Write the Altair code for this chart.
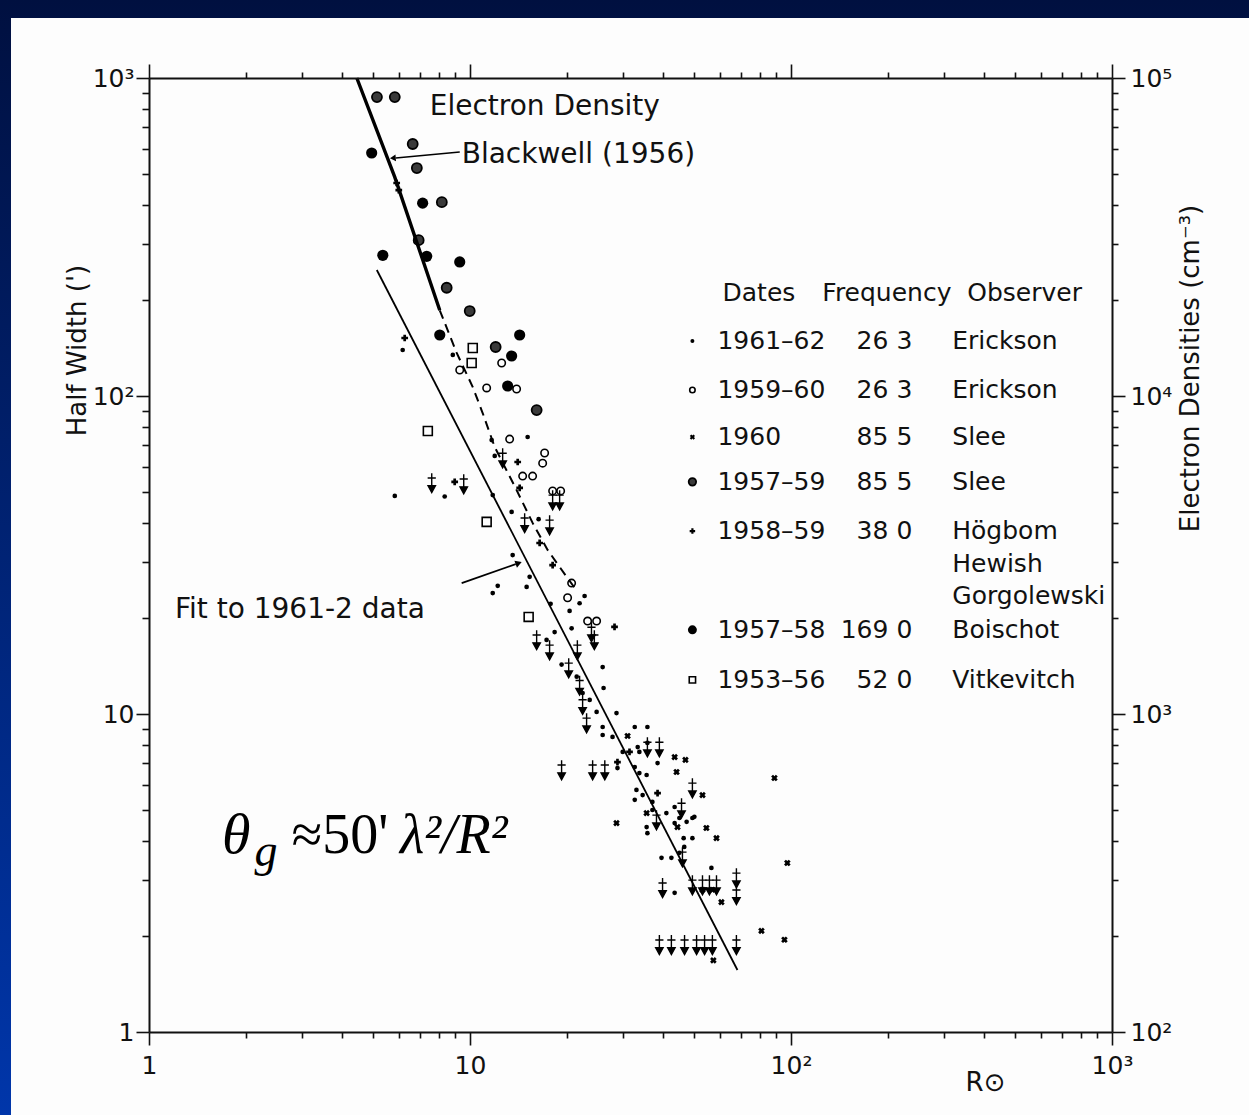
import altair as alt
import pandas as pd

# ---------------- data (Ro in solar radii, half width in arc-min) ----------------
# 1961-62 Erickson 26.3 MHz (small dots)
E61_X = [6.17, 8.84, 5.83, 8.34, 11.68, 15.12, 11.94, 11.77, 13.48, 16.36, 13.58, 15.34, 12.2, 11.77, 15.01,
         22.75, 21.95, 20.43, 17.83, 20.73, 18.35, 17.32, 19.29, 25.9, 26.07, 22.43, 28.6, 25.9, 25.9, 27.8,
         32.6, 35.7, 33.3, 29.9, 38.4, 32.6, 33.7, 33.0, 34.5, 37.0, 32.6, 37.0, 40.9, 44.9, 49.3,
         35.5, 47.3, 46.3, 49.3, 46.5, 39.5, 42.4, 44.9, 56.5, 43.4, 35.7, 33.7, 28.8, 35.5, 43.4,
         50.0, 43.4, 35.7, 23.6, 24.8, 21.5]
E61_Y = [139.5, 134.6, 48.5, 48.3, 72.7, 74.3, 64.8, 48.8, 43.2, 41.0, 31.6, 27.0, 25.3, 24.0, 25.1,
         23.5, 22.3, 21.1, 22.2, 18.6, 18.1, 17.1, 14.3, 14.05, 12.07, 11.64, 10.07, 9.1, 8.59, 8.47,
         9.1, 9.1, 7.87, 7.6, 7.01, 6.81, 6.52, 5.77, 5.56, 5.29, 5.37, 4.99, 4.88, 4.71, 4.71,
         4.41, 4.58, 4.07, 4.07, 3.82, 3.53, 3.53, 3.66, 3.28, 2.74, 8.11, 7.6, 6.76, 6.43, 5.1,
         4.75, 4.54, 4.22, 11.07, 10.15, 13.1]
# 1959-60 Erickson 26.3 MHz (open circles)
E59_X = [12.55, 9.29, 11.27, 13.97, 13.29, 17.08, 16.84, 14.59, 15.67, 18.09, 19.16, 20.73, 20.14, 23.25, 24.8]
E59_Y = [127, 120.7, 106, 105.2, 73.2, 66.2, 61.5, 56.0, 56.0, 50.3, 50.3, 25.8, 23.2, 19.6, 19.6]
# 1960 Slee 85.5 MHz (small crosses)
S60_X = [30.97, 43.4, 46.9, 44.0, 88.8, 53.0, 28.6, 54.5, 58.6, 97.4, 60.7, 80.9, 95.4, 57.3, 35.5, 44.3, 53.0, 56.9]
S60_Y = [8.53, 7.32, 7.17, 6.57, 6.29, 5.56, 4.54, 4.38, 4.07, 3.40, 2.56, 2.08, 1.95, 1.68, 4.88, 4.41, 2.80, 2.80]
# 1957-59 Slee 85.5 MHz (ringed dots)
S57_X = [5.13, 5.83, 6.63, 6.83, 8.17, 8.46, 9.98, 12.02, 16.13, 6.92]
S57_Y = [871, 871, 620, 521, 407, 219, 185, 142.6, 90.3, 309]
# 1958-59 Hogbom / Hewish / Gorgolewski 38.0 MHz (plus signs)
H58_X = [6.26, 14.08, 16.48, 28.2, 31.4, 28.8, 38.4, 14.28, 18.09, 8.96, 6.0, 5.91]
H58_Y = [152.2, 62.0, 34.5, 18.8, 7.6, 7.06, 5.64, 51.4, 29.4, 53.7, 444, 467.6]
# 1958-59 upper limits (plus with down arrow)
HUL_X = [7.6, 9.56, 12.64, 18.09, 19.02, 14.8, 17.7, 23.9, 16.13, 21.6, 24.4, 17.7, 20.3, 21.95, 22.43,
         23.08, 38.9, 35.7, 19.29, 24.1, 26.3, 49.3, 45.6, 38.1, 45.9, 39.8, 49.3, 53.0, 55.7, 58.6,
         67.6, 67.6, 38.9, 42.4, 46.6, 50.8, 53.8, 56.9, 67.6]
HUL_Y = [53.3, 52.9, 63.8, 47.1, 47.1, 39.9, 39.3, 18.1, 17.1, 15.9, 17.1, 15.9, 13.95, 12.3, 10.7,
         9.37, 7.87, 7.87, 6.67, 6.67, 6.67, 5.85, 5.06, 4.64, 3.55, 2.84, 2.9, 2.9, 2.9, 2.9,
         3.05, 2.7, 1.88, 1.88, 1.88, 1.88, 1.88, 1.88, 1.88]
# 1957-58 Boischot 169.0 MHz (large dots)
B57_X = [4.94, 5.35, 7.12, 7.33, 9.29, 14.28, 13.48, 13.10, 8.05]
B57_Y = [581, 277, 404, 275, 264, 155.5, 133.6, 107.5, 155.5]
# 1953-56 Vitkevitch 52.0 MHz (open squares)
V53_X = [10.2, 10.12, 7.39, 11.27, 15.23]
V53_Y = [141.6, 127, 77.6, 40.2, 20.2]

# fit to 1961-2 data
FIT_X = [5.125, 68.1]
FIT_Y = [249, 1.567]

# electron density (cm^-3), right axis: Blackwell solid, extrapolation dashed
ED_SOLID_X = [4.44, 5.83, 8.05]
ED_SOLID_N = [100000, 48800, 18600]
ED_DASH_X = [8.05, 9.09, 10.2, 10.95, 11.94, 13.97, 15.67, 17.45, 20.0, 21.2]
ED_DASH_N = [18600, 13660, 10670, 8840, 6910, 5060, 3990, 3280, 2700, 2490]

# legend table
LEG_SYM_X = 49.3
LEG_ROW_Y = [149.0, 104.4, 74.3, 53.7, 37.6, 18.4, 12.8]
LEG_DATES = ["1961–62", "1959–60", "1960", "1957–59", "1958–59", "1957–58", "1953–56"]
LEG_FREQ = ["26 3", "26 3", "85 5", "85 5", "38 0", "169 0", "52 0"]
LEG_OBS = ["Erickson", "Erickson", "Slee", "Slee", "Högbom", "Boischot", "Vitkevitch"]
LEG_EXTRA_OBS = ["Hewish", "Gorgolewski"]
LEG_EXTRA_Y = [29.6, 23.5]
LEG_HEAD = ["Dates", "Frequency", "Observer"]
LEG_HEAD_X = [61.2, 125.2, 354]
LEG_HEAD_Y = 210.8
LEG_DATES_X = 59.0
LEG_FREQ_X = 238.7
LEG_OBS_X = 318

X_TICKS = [1, 2, 3, 4, 5, 6, 7, 8, 9, 10, 20, 30, 40, 50, 60, 70, 80, 90,
           100, 200, 300, 400, 500, 600, 700, 800, 900, 1000]
Y_TICKS = X_TICKS
N_TICKS = [100, 200, 300, 400, 500, 600, 700, 800, 900, 1000, 2000, 3000, 4000, 5000, 6000, 7000, 8000, 9000,
           10000, 20000, 30000, 40000, 50000, 60000, 70000, 80000, 90000, 100000]

FONT = "DejaVu Sans"
INK = "#111111"

XSCALE = alt.Scale(type="log", domain=[1, 1000], nice=False)
YSCALE = alt.Scale(type="log", domain=[1, 1000], nice=False)
NSCALE = alt.Scale(type="log", domain=[100, 100000], nice=False)

MAJ = "datum.value == 1 || datum.value == 10 || datum.value == 100 || datum.value == 1000"
MAJ_N = "datum.value == 100 || datum.value == 1000 || datum.value == 10000 || datum.value == 100000"
LAB = ("datum.value == 1 ? '1' : datum.value == 10 ? '10' : datum.value == 100 ? '10²' : "
       "datum.value == 1000 ? '10³' : ''")
LAB_N = ("datum.value == 100 ? '10²' : datum.value == 1000 ? '10³' : datum.value == 10000 ? '10⁴' : "
         "datum.value == 100000 ? '10⁵' : ''")


def tsize(test, big, small):
    return {"condition": {"test": test, "value": big}, "value": small}


common = dict(grid=False, domainColor=INK, domainWidth=2, tickColor=INK, tickWidth=1.6,
              labelFont=FONT, labelFontSize=25, labelColor=INK, labelFlush=False, labelOverlap=False,
              titleFont=FONT, titleFontSize=26, titleFontWeight="normal", titleColor=INK, zindex=1)

XAXIS = alt.Axis(orient="bottom", values=X_TICKS, labelExpr=LAB, tickSize=tsize(MAJ, 13, 6),
                 labelPadding=8, title="R⊙", titleX=836, titleY=50, titleAlign="center",
                 titleBaseline="middle", **common)
XTOP = alt.Axis(orient="top", values=X_TICKS, labels=False, tickSize=tsize(MAJ, 14, 6), title=None, **common)
YAXIS = alt.Axis(orient="left", values=Y_TICKS, labelExpr=LAB, tickSize=tsize(MAJ, 13, 7),
                 labelPadding=2, title="Half Width (')", titleAngle=270, titleX=-72, titleY=272,
                 titleAlign="center", titleBaseline="middle", **common)
NAXIS = alt.Axis(orient="right", values=N_TICKS, labelExpr=LAB_N, tickSize=tsize(MAJ_N, 13, 6),
                 labelPadding=5, title="Electron Densities (cm⁻³)", titleAngle=270, titleX=78, titleY=290,
                 titleAlign="center", titleBaseline="middle", **common)

X = alt.X("x:Q", scale=XSCALE, axis=XAXIS)
Y = alt.Y("y:Q", scale=YSCALE, axis=YAXIS)


def frame(xs, ys):
    return pd.DataFrame({"x": xs, "y": ys})


def pts(xs, ys, **mk):
    return alt.Chart(frame(xs, ys)).mark_point(**mk).encode(x=X, y=Y)


ARROW_PATH = "M0,-1L0,0.45M-0.42,-0.5L0.42,-0.5M-0.38,0.3L0.38,0.3L0,1Z"

# series styles (data marks and legend symbols)
styles = {
    "E61": dict(shape="circle", filled=True, color="black", opacity=1),
    "E59": dict(shape="circle", filled=False, color="black", strokeWidth=1.6, opacity=1),
    "S60": dict(shape="cross", angle=45, filled=True, color="black", opacity=1),
    "S57": dict(shape="circle", filled=True, fill="#3a3a3a", stroke="black", strokeWidth=1.8, opacity=1),
    "H58": dict(shape="cross", filled=True, color="black", opacity=1),
    "B57": dict(shape="circle", filled=True, color="black", opacity=1),
    "V53": dict(shape="square", filled=False, color="black", strokeWidth=1.6, opacity=1),
}
sizes = {"E61": 22, "E59": 55, "S60": 45, "S57": 100, "H58": 45, "B57": 125, "V53": 80}
leg_sizes = {"E61": 16, "E59": 30, "S60": 28, "S57": 55, "H58": 30, "B57": 80, "V53": 40}
series = {"E61": (E61_X, E61_Y), "E59": (E59_X, E59_Y), "S60": (S60_X, S60_Y), "S57": (S57_X, S57_Y),
          "H58": (H58_X, H58_Y), "B57": (B57_X, B57_Y), "V53": (V53_X, V53_Y)}
order = ["E61", "E59", "S60", "S57", "H58", "B57", "V53"]

layers = []
# fit line
layers.append(alt.Chart(frame(FIT_X, FIT_Y)).mark_line(color="black", strokeWidth=1.8).encode(x=X, y=Y))
# upper-limit arrows
layers.append(pts(HUL_X, HUL_Y, shape=ARROW_PATH, filled=True, fill="black", stroke="black",
                  strokeWidth=1.4, size=380, opacity=1))
for k in order:
    xs, ys = series[k]
    layers.append(pts(xs, ys, size=sizes[k], **styles[k]))
# legend symbols
for i, k in enumerate(order):
    layers.append(pts([LEG_SYM_X], [LEG_ROW_Y[i]], size=leg_sizes[k], **styles[k]))


def texts(xs, ys, labels, **mk):
    d = pd.DataFrame({"x": xs, "y": ys, "t": labels})
    base = dict(font=FONT, fontSize=25, color=INK, align="left", baseline="middle")
    base.update(mk)
    return alt.Chart(d).mark_text(**base).encode(x=X, y=Y, text="t:N")


layers.append(texts(LEG_HEAD_X, [LEG_HEAD_Y] * 3, LEG_HEAD))
layers.append(texts([LEG_DATES_X] * 7, LEG_ROW_Y, LEG_DATES))
layers.append(texts([LEG_FREQ_X] * 7, LEG_ROW_Y, LEG_FREQ, align="right"))
layers.append(texts([LEG_OBS_X] * 7, LEG_ROW_Y, LEG_OBS))
layers.append(texts([LEG_OBS_X] * 2, LEG_EXTRA_Y, LEG_EXTRA_OBS))

# annotations
ANN_TEXT = ["Electron Density", "Blackwell (1956)", "Fit to 1961-2 data"]
ANN_X = [7.49, 9.42, 1.205]
ANN_Y = [811, 573, 21.2]
layers.append(texts(ANN_X, ANN_Y, ANN_TEXT, fontSize=28))

# arrows to Blackwell curve and fit line
ARW1_X = [9.29, 5.87]
ARW1_Y = [585, 560]
ARW2_X = [9.42, 13.88]
ARW2_Y = [25.8, 29.6]
layers.append(alt.Chart(frame(ARW1_X, ARW1_Y)).mark_line(color="black", strokeWidth=1.6).encode(x=X, y=Y))
layers.append(alt.Chart(frame(ARW2_X, ARW2_Y)).mark_line(color="black", strokeWidth=1.8).encode(x=X, y=Y))
layers.append(pts([5.75], [560], shape="triangle-left", angle=355, filled=True, color="black", size=45, opacity=1))
layers.append(pts([14.18], [29.8], shape="triangle-right", angle=340, filled=True, color="black", size=55, opacity=1))

# formula  theta_g ~ 50' lambda^2 / R^2
layers.append(texts([1.687], [3.66], ["θ"], font="Liberation Serif", fontStyle="italic",
                    fontSize=58, baseline="alphabetic", color="black"))
layers.append(texts([2.13], [3.33], ["g"], font="Liberation Serif", fontStyle="italic",
                    fontSize=46, baseline="alphabetic", color="black"))
layers.append(texts([2.78], [3.66], ["≈50'"], font="Liberation Serif",
                    fontSize=56, baseline="alphabetic", color="black"))
layers.append(texts([6.05], [3.66], ["λ²/R²"], font="Liberation Serif", fontStyle="italic",
                    fontSize=56, baseline="alphabetic", color="black"))

main = alt.layer(*layers)

# electron density curve on the right-hand axis
XT = alt.X("x:Q", scale=XSCALE, axis=XTOP)
NY = alt.Y("n:Q", scale=NSCALE, axis=NAXIS)
ed_solid = alt.Chart(pd.DataFrame({"x": ED_SOLID_X, "n": ED_SOLID_N})).mark_line(
    color="black", strokeWidth=3.4).encode(x=XT, y=NY)
ed_dash = alt.Chart(pd.DataFrame({"x": ED_DASH_X, "n": ED_DASH_N})).mark_line(
    color="black", strokeWidth=2.0, strokeDash=[9, 6]).encode(x=XT, y=NY)
density = alt.layer(ed_solid, ed_dash)

# slide background: blue gradient frame with white panel
one = pd.DataFrame({"a": [0]})
bg = alt.Chart(one).mark_rect(
    fill={"gradient": "linear", "x1": 0, "y1": 0, "x2": 0, "y2": 1,
          "stops": [{"offset": 0, "color": "#001040"}, {"offset": 1, "color": "#0036aa"}]}
).encode(x=alt.value(-149), x2=alt.value(1100), y=alt.value(-78), y2=alt.value(1037))
panel = alt.Chart(one).mark_rect(fill="#fdfdfd").encode(
    x=alt.value(-138), x2=alt.value(1100), y=alt.value(-60), y2=alt.value(1037))

chart = alt.layer(bg, panel, main, density).resolve_scale(y="independent").resolve_axis(
    x="independent", y="independent"
).properties(
    width=963, height=954,
    autosize=alt.AutoSizeParams(type="none"),
    padding={"left": 149, "top": 78, "right": 137, "bottom": 83},
).configure_view(stroke=None)

chart.save("out.html", embed_options={"renderer": "svg", "actions": False})
